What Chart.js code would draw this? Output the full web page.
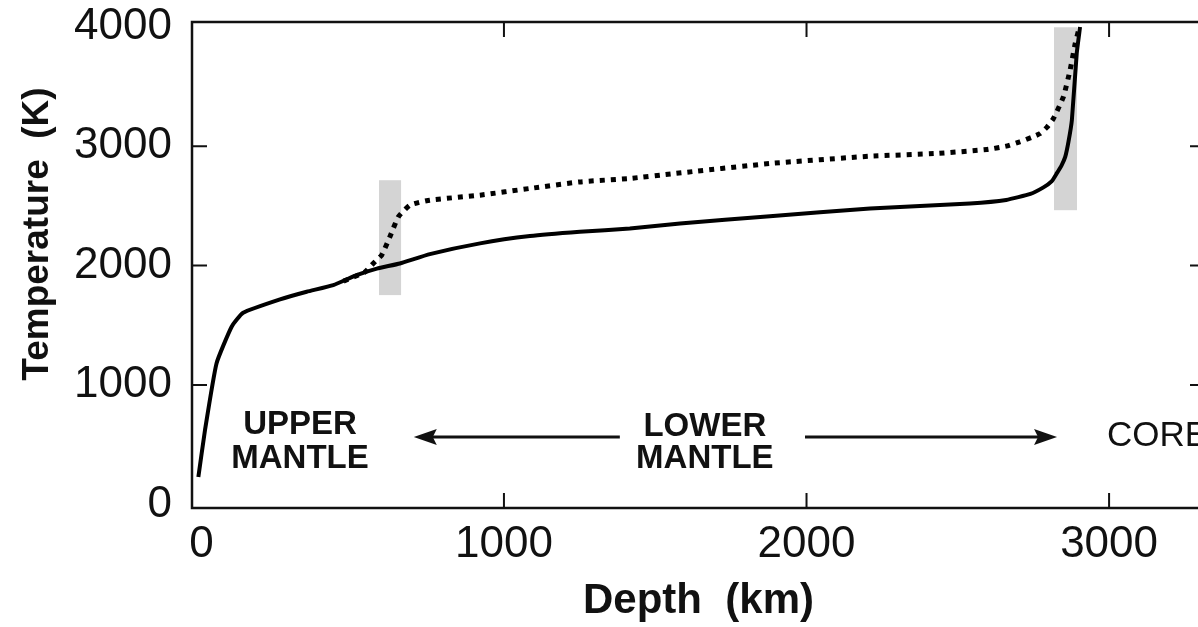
<!DOCTYPE html>
<html>
<head>
<meta charset="utf-8">
<script src="https://cdn.jsdelivr.net/npm/chart.js@4.4.0/dist/chart.umd.min.js"></script>
<style>
  html, body { margin: 0; padding: 0; background: #fff; overflow: hidden; }
  #wrap { width: 1198px; height: 627px; overflow: hidden; position: relative; }
  #box { width: 1212px; height: 627px; position: absolute; left: 0; top: 0; }
</style>
</head>
<body>
<div id="wrap"><div id="box"><canvas id="geotherm"></canvas></div></div>
<script>
// values
const solidDepth = [-10, 12, 50, 100, 138, 260, 348, 436, 513, 580, 656, 755, 921, 1086, 1251, 1416, 1582, 1879, 2210, 2540, 2660, 2740, 2783, 2810, 2827, 2843, 2855, 2866, 2877, 2893, 2904];
const solidTemp  = [230, 623, 1181, 1488, 1605, 1717, 1781, 1837, 1920, 1975, 2018, 2096, 2186, 2247, 2283, 2311, 2353, 2414, 2479, 2521, 2550, 2600, 2655, 2705, 2772, 2840, 2910, 3040, 3218, 3776, 3998];

const dottedDepth = [470, 540, 568, 596, 623, 651, 689, 755, 921, 1086, 1251, 1416, 1560, 1879, 2210, 2430, 2596, 2660, 2705, 2745, 2772, 2795, 2816, 2849, 2871, 2888, 2902];
const dottedTemp  = [1870, 1945, 2018, 2088, 2241, 2408, 2506, 2548, 2590, 2646, 2701, 2730, 2770, 2855, 2916, 2939, 2972, 3000, 3036, 3075, 3106, 3160, 3232, 3413, 3636, 3859, 3998];

const xTicks = [0, 1000, 2000, 3000];
const yTicks = [0, 1000, 2000, 3000, 4000];

// shaded transition zones: [depth from, depth to], [temp from, temp to]
const bandDepth = [[587, 660], [2818, 2894]];
const bandTemp  = [[1753, 2715], [2464, 3996]];

// region labels (depth, temperature)
const regionLabels = [
  { text: 'UPPER', x: 326, y: 669, bold: true, align: 'center' },
  { text: 'MANTLE', x: 326, y: 381, bold: true, align: 'center' },
  { text: 'LOWER', x: 1664, y: 650, bold: true, align: 'center' },
  { text: 'MANTLE', x: 1664, y: 381, bold: true, align: 'center' },
  { text: 'CORE', x: 2993, y: 570, bold: false, align: 'left' }
];
// arrows: [tail depth, tip depth] at a temperature
const arrows = [[1383, 702], [1995, 2828]];
const arrowTemp = 565;

const FONT = '"Liberation Sans", Arial, Helvetica, sans-serif';

const toPoints = (xs, ys) => xs.map((x, i) => ({ x: x, y: ys[i] }));

const framePlugin = {
  id: 'frame',
  beforeDatasetsDraw(chart) {
    const ctx = chart.ctx;
    const xs = chart.scales.x, ys = chart.scales.y;
    ctx.save();
    ctx.fillStyle = '#d4d4d4';
    bandDepth.forEach((b, i) => {
      const x0 = xs.getPixelForValue(b[0]), x1 = xs.getPixelForValue(b[1]);
      const y0 = ys.getPixelForValue(bandTemp[i][1]), y1 = ys.getPixelForValue(bandTemp[i][0]);
      ctx.fillRect(x0, y0, x1 - x0, y1 - y0);
    });
    ctx.restore();
  },
  afterDraw(chart) {
    const ctx = chart.ctx;
    const a = chart.chartArea;
    const xs = chart.scales.x, ys = chart.scales.y;
    ctx.save();
    ctx.strokeStyle = '#111';
    ctx.lineWidth = 2.5;
    ctx.strokeRect(a.left, a.top, a.right - a.left, a.bottom - a.top);
    // inward ticks
    ctx.lineWidth = 2;
    const tl = 15;
    ctx.beginPath();
    xTicks.forEach(v => {
      if (v === 0) return;
      const px = xs.getPixelForValue(v);
      ctx.moveTo(px, a.bottom); ctx.lineTo(px, a.bottom - tl);
      ctx.moveTo(px, a.top); ctx.lineTo(px, a.top + tl);
    });
    yTicks.forEach(v => {
      if (v === 0 || v === 4000) return;
      const py = ys.getPixelForValue(v);
      ctx.moveTo(a.left, py); ctx.lineTo(a.left + tl, py);
      ctx.moveTo(a.right, py); ctx.lineTo(a.right - tl, py);
    });
    ctx.stroke();

    // region labels
    ctx.fillStyle = '#111';
    ctx.textBaseline = 'middle';
    regionLabels.forEach(l => {
      ctx.font = (l.bold ? 'bold 33px ' : '35px ') + FONT;
      ctx.textAlign = l.align;
      ctx.fillText(l.text, xs.getPixelForValue(l.x), ys.getPixelForValue(l.y));
    });

    // arrows
    const ay = ys.getPixelForValue(arrowTemp);
    arrows.forEach(ar => {
      const x0 = xs.getPixelForValue(ar[0]), x1 = xs.getPixelForValue(ar[1]);
      const dir = Math.sign(x1 - x0);
      ctx.lineWidth = 3;
      ctx.beginPath();
      ctx.moveTo(x0, ay); ctx.lineTo(x1 - dir * 18, ay);
      ctx.stroke();
      ctx.beginPath();
      ctx.moveTo(x1, ay);
      ctx.lineTo(x1 - dir * 23, ay - 8);
      ctx.lineTo(x1 - dir * 19, ay);
      ctx.lineTo(x1 - dir * 23, ay + 8);
      ctx.closePath();
      ctx.fill();
    });

    // y axis title
    ctx.font = 'bold 37px ' + FONT;
    ctx.textAlign = 'center';
    ctx.translate(38, 234);
    ctx.rotate(-Math.PI / 2);
    ctx.fillText('Temperature  (K)', 0, 0);
    ctx.restore();
  }
};

new Chart(document.getElementById('geotherm'), {
  type: 'line',
  data: {
    datasets: [
      {
        label: 'solid',
        data: toPoints(solidDepth, solidTemp),
        borderColor: '#000',
        borderWidth: 4,
        pointRadius: 0,
        tension: 0.15,
        fill: false
      },
      {
        label: 'dotted',
        data: toPoints(dottedDepth, dottedTemp),
        borderColor: '#000',
        borderWidth: 5,
        borderDash: [5, 6],
        borderCapStyle: 'butt',
        pointRadius: 0,
        tension: 0.15,
        fill: false
      }
    ]
  },
  options: {
    responsive: true,
    maintainAspectRatio: false,
    animation: false,
    layout: { autoPadding: false, padding: { left: 0, top: 22, right: 7, bottom: 0 } },
    plugins: { legend: { display: false }, tooltip: { enabled: false } },
    scales: {
      x: {
        type: 'linear',
        min: -31,
        max: 3317,
        afterBuildTicks: s => { s.ticks = xTicks.map(v => ({ value: v })); },
        afterFit: s => { s.height = 119; s.paddingLeft = 0; s.paddingRight = 0; },
        grid: { display: false, drawTicks: false },
        border: { display: false },
        ticks: {
          color: '#111',
          padding: 10,
          callback: v => String(v),
          font: { family: FONT, size: 44 }
        },
        title: {
          display: true,
          text: 'Depth  (km)',
          color: '#111',
          padding: { top: 0, bottom: 0 },
          font: { family: FONT, size: 42, weight: 'bold' }
        }
      },
      y: {
        min: -30,
        max: 4040,
        afterBuildTicks: s => { s.ticks = yTicks.map(v => ({ value: v })); },
        afterFit: s => { s.width = 192; s.paddingTop = 0; s.paddingBottom = 0; },
        grid: { display: false, drawTicks: false },
        border: { display: false },
        ticks: {
          color: '#111',
          padding: 20,
          callback: v => String(v),
          font: { family: FONT, size: 44 }
        }
      }
    }
  },
  plugins: [framePlugin]
});
</script>
</body>
</html>
